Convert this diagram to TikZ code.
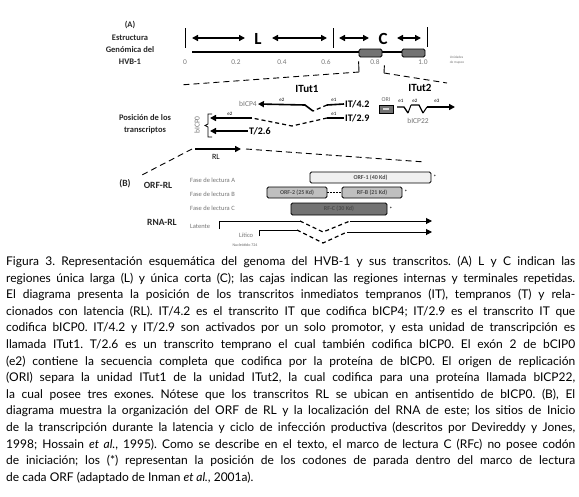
\documentclass[tikz,border=0pt]{standalone}
\usepackage{fontspec}
\setmainfont{Lato}
\newfontfamily\figfont{Carlito}
\usetikzlibrary{arrows.meta}

\begin{document}
\begin{tikzpicture}[x=1pt, y=-1pt,
      title/.style={font=\figfont\bfseries\fontsize{8.5}{12}\selectfont, align=center, text=black!85},
      region/.style={font=\figfont\bfseries\fontsize{17}{17}\selectfont},
      unit/.style={font=\figfont\bfseries\fontsize{11}{11}\selectfont},
      trname/.style={font=\figfont\bfseries\fontsize{10}{10}\selectfont, inner sep=1pt},
      gene/.style={font=\figfont\fontsize{7.5}{8}\selectfont, text=black!55, inner sep=1pt},
      exon/.style={font=\figfont\fontsize{5}{5}\selectfont, inner sep=0pt},
      tick/.style={font=\fontsize{6.5}{7}\selectfont, text=black!55},
      phase/.style={font=\figfont\fontsize{6.5}{7}\selectfont, text=black!55, anchor=west, inner sep=0pt},
      orfbox/.style={draw, line width=0.8pt, rounded corners=1.5pt, minimum height=11pt, inner sep=0pt,
        font=\figfont\bfseries\fontsize{6}{6}\selectfont, text=black!70},
      repbox/.style={draw, line width=0.8pt, fill=black!55, rounded corners=1.5pt, minimum width=23pt, minimum height=8pt},
      stop/.style={font=\fontsize{6}{6}\selectfont, inner sep=0pt},
      dbl/.style={line width=1.4pt, {Triangle[length=6pt,width=6pt]}-{Triangle[length=6pt,width=6pt]}},
      tr/.style={line width=1.6pt},
      arr/.style={-{Triangle[length=6pt,width=6pt]}},
      intron/.style={line width=1.2pt, dash pattern=on 4pt off 3pt},
      zoomline/.style={line width=0.9pt, dash pattern=on 6pt off 4pt}]
  \useasboundingbox (0,0) rectangle (579,496);

  % (A) genome structure
  \node[title] (A) at (130,25) {(A)};
  \node[title] (estr) at (130,50) {Estructura\\Genómica del\\HVB-1};
  \coordinate (g0) at (192,52);
  \coordinate (g1) at (425,52);
  \draw[line width=2pt] (g0) -- (g1);
  \draw[line width=1pt] (185,28) -- (185,48);
  \draw[line width=1pt] (333,28) -- (333,48);
  \draw[line width=1pt] (427,27) -- (427,47);
  \coordinate (l0) at (192,38); \coordinate (l1) at (245,38);
  \coordinate (l2) at (272,38); \coordinate (l3) at (327,38);
  \coordinate (c0) at (339,38); \coordinate (c1) at (369,38);
  \coordinate (c2) at (397,38); \coordinate (c3) at (421,38);
  \draw[dbl] (l0) -- (l1);
  \draw[dbl] (l2) -- (l3);
  \draw[dbl] (c0) -- (c1);
  \draw[dbl] (c2) -- (c3);
  \node[region] (L) at (258,39) {L};
  \node[region] (C) at (383,39) {C};
  \node[repbox] (IR) at (370.5,53) {};
  \node[repbox] (TR) at (413.5,53) {};
  \foreach \x/\t in {185/0, 236/0.2, 282/0.4, 326/0.6, 375/0.8, 423/1.0}
    \node[tick] (tk\t) at (\x,62) {\t};
  \node[font=\figfont\fontsize{3.5}{4.5}\selectfont, text=black!55, align=left] (mapeo) at (457,60) {Unidades\\de mapeo};

  % zoom into the repeat region
  \coordinate (zl) at (359,72);
  \coordinate (zl2) at (180,85);
  \coordinate (zr) at (384,73);
  \coordinate (zr2) at (447,83);
  \draw[line width=0.9pt] (IR.south west) ++(0,4) -- (zl);
  \draw[zoomline] (zl) -- (zl2);
  \draw[line width=0.9pt] (IR.south east) ++(2,8) -- (zr);
  \draw[zoomline] (zr) -- (zr2);

  % transcripts
  \node[title] (pos) at (145,124) {Posición de los\\transcriptos};
  \node[unit] (itut1) at (307,89) {ITut1};
  \node[unit] (itut2) at (420,88) {ITut2};

  \node[trname, anchor=west] (IT42) at (344,104) {IT/4.2};
  \node[trname, anchor=west] (IT29) at (344,118) {IT/2.9};
  \node[trname, anchor=west] (T26) at (248,131) {T/2.6};
  \node[gene] (bICP4) at (248,104) {bICP4};
  \coordinate (a1) at (327,105);
  \coordinate (a2) at (313,111);
  \coordinate (a3) at (305,105);
  \draw[tr] (IT42.west) -- (a1);
  \draw[intron] (a1) -- (a2);
  \draw[tr, arr] (a2) -- (a3) -- (bICP4.east);
  \node[exon] (e2a) at (282,100) {e2};
  \node[exon] (e1a) at (334,100) {e1};

  \coordinate (b1) at (327,118);
  \coordinate (b2) at (292,126);
  \coordinate (b3) at (252,118);
  \coordinate (b4) at (210,118);
  \draw[tr] (IT29.west) -- (b1);
  \draw[intron] (b1) -- (b2) -- (b3);
  \draw[tr, arr] (b3) -- (b4);
  \node[exon] (e2b) at (230,114) {e2};
  \node[exon] (e1b) at (334,114) {e1};

  \coordinate (t4) at (210,131);
  \draw[tr, arr] (T26.west) -- (t4);
  \draw[line width=0.8pt] (212,114) -- (208,114) -- (208,124) -- (205,125.5) -- (208,127) -- (208,137) -- (212,137);
  \node[gene, rotate=90] (bICP0) at (197,125) {bICP0};

  % RL transcript
  \coordinate (rl0) at (195,149);
  \coordinate (rl1) at (241,149);
  \draw[tr, arr] (rl0) -- (rl1);
  \node[font=\figfont\fontsize{8}{8}\selectfont] (RL) at (216,157) {RL};
  \coordinate (rz1) at (140,176);
  \coordinate (rz2) at (425,162);
  \draw[zoomline] (192,149) -- (rz1);
  \draw[zoomline] (246,149) -- (rz2);

  % ITut2
  \node[draw, line width=0.8pt, fill=black!55, minimum width=14pt, minimum height=8pt, inner sep=0pt] (ORI) at (386,109) {};
  \node[fill=black!15, minimum width=6pt, minimum height=2.5pt, inner sep=0pt] (ORIin) at (ORI.center) {};
  \node[font=\figfont\fontsize{6}{6}\selectfont, text=black!60] (ORIlbl) at (386,100) {ORI};
  \coordinate (d1) at (397,107);
  \coordinate (d2) at (404,107);
  \coordinate (d3) at (408,113);
  \coordinate (d4) at (411,105);
  \coordinate (d5) at (419,105);
  \coordinate (d6) at (423,113);
  \coordinate (d7) at (427,107);
  \coordinate (d8) at (455,107);
  \draw[line width=1.3pt] (d1) -- (d2) -- (d3);
  \draw[line width=1pt] (d3) -- (d4);
  \draw[line width=1.3pt] (d4) -- (d5) -- (d6);
  \draw[line width=1pt] (d6) -- (d7);
  \draw[tr, arr] (d7) -- (d8);
  \node[exon] (e1c) at (401,101) {e1};
  \node[exon] (e2c) at (415,101) {e2};
  \node[exon] (e3c) at (437,101) {e3};
  \node[gene] (bICP22) at (418,121) {bICP22};

  % (B) ORF and RNA of RL
  \node[title, font=\figfont\bfseries\fontsize{9.5}{10}\selectfont] (B) at (125,184) {(B)};
  \node[title, font=\figfont\bfseries\fontsize{9.5}{10}\selectfont] (ORFRL) at (158,185) {ORF-RL};
  \node[title, font=\figfont\bfseries\fontsize{9.5}{10}\selectfont] (RNARL) at (162,222) {RNA-RL};
  \node[phase] (fA) at (190,180) {Fase de lectura A};
  \node[phase] (fB) at (190,194) {Fase de lectura B};
  \node[phase] (fC) at (190,208) {Fase de lectura C};

  \node[orfbox, fill=black!6, minimum width=121pt] (orf1) at (370.5,177.5) {ORF-1 (40 Kd)};
  \node[orfbox, fill=black!25, minimum width=60pt] (orf2) at (297,192.5) {ORF-2 (25 Kd)};
  \node[orfbox, fill=black!25, minimum width=60pt] (rfb) at (372,192.5) {RF-B (21 Kd)};
  \node[orfbox, fill=black!55, minimum width=96pt, minimum height=12pt] (rfc) at (339,209) {RF-C (30 Kd)};
  \draw[line width=1.2pt, dash pattern=on 1.5pt off 1.5pt] (orf2.east) -- (rfb.west);
  \node[stop, right=2pt] (s1) at (orf1.east) {*};
  \node[stop, right=2pt] (s2) at (rfb.east) {*};
  \node[stop, right=2pt] (s3) at (rfc.east) {*};

  \node[phase] (lat) at (190,226) {Latente};
  \node[phase] (lit) at (239,235) {Lítico};
  \node[font=\figfont\fontsize{4}{4}\selectfont, text=black!60] (nuc) at (245,245) {Nucleótido 724};
  \coordinate (p0) at (219,229);
  \coordinate (p1) at (219,221);
  \coordinate (p2) at (300,221);
  \coordinate (p3) at (323,232);
  \coordinate (p4) at (350,221);
  \coordinate (p5) at (432,221);
  \draw[line width=0.9pt] (p0) -- (p1) -- (p2);
  \draw[intron] (p2) -- (p3) -- (p4);
  \draw[line width=1pt, arr] (p4) -- (p5);
  \coordinate (q0) at (259,236);
  \coordinate (q1) at (259,230);
  \coordinate (q2) at (297,230);
  \coordinate (q3) at (323,243);
  \coordinate (q4) at (347,232);
  \coordinate (q5) at (432,232);
  \draw[line width=0.9pt] (q0) -- (q1) -- (q2);
  \draw[intron] (q2) -- (q3) -- (q4);
  \draw[line width=1pt, arr] (q4) -- (q5);

  % caption
  \node[anchor=north west, text width=569pt, align=justify, inner sep=0pt,
        font=\fontsize{12}{16.6}\selectfont\frenchspacing] (caption) at (6,256) {%
    Figura 3. Representación esquemática del genoma del HVB-1 y sus transcritos. (A) L y C indican las\linebreak
    regiones única larga (L) y única corta (C); las cajas indican las regiones internas y terminales repetidas.\linebreak
    El diagrama presenta la posición de los transcritos inmediatos tempranos (IT), tempranos (T) y rela-\linebreak
    cionados con latencia (RL). IT/4.2 es el transcrito IT que codifica bICP4; IT/2.9 es el transcrito IT que\linebreak
    codifica bICP0. IT/4.2 y IT/2.9 son activados por un solo promotor, y esta unidad de transcripción es\linebreak
    llamada ITut1. T/2.6 es un transcrito temprano el cual también codifica bICP0. El exón 2 de bCIP0\linebreak
    (e2) contiene la secuencia completa que codifica por la proteína de bICP0. El origen de replicación\linebreak
    (ORI) separa la unidad ITut1 de la unidad ITut2, la cual codifica para una proteína llamada bICP22,\linebreak
    la cual posee tres exones. Nótese que los transcritos RL se ubican en antisentido de bICP0. (B), El\linebreak
    diagrama muestra la organización del ORF de RL y la localización del RNA de este; los sitios de Inicio\linebreak
    de la transcripción durante la latencia y ciclo de infección productiva (descritos por Devireddy y Jones,\linebreak
    1998; Hossain \textit{et al.}, 1995). Como se describe en el texto, el marco de lectura C (RFc) no posee codón\linebreak
    de iniciación; los (*) representan la posición de los codones de parada dentro del marco de lectura\linebreak
    de cada ORF (adaptado de Inman \textit{et al.}, 2001a).};
\end{tikzpicture}
\end{document}
